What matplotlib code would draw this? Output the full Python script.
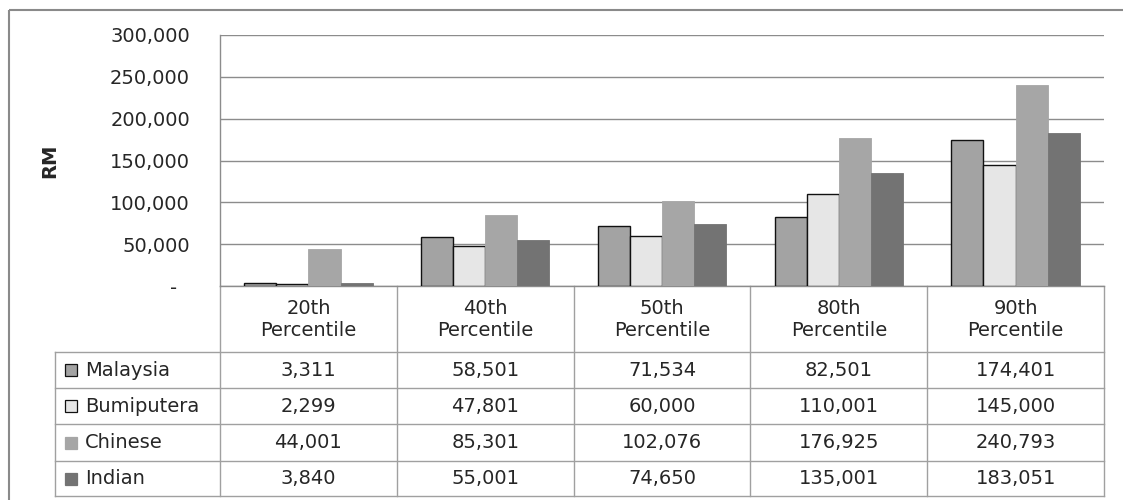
import matplotlib
matplotlib.use("Agg")
import matplotlib.pyplot as plt
from matplotlib.lines import Line2D
from matplotlib.patches import Rectangle
from matplotlib.ticker import FixedLocator, FuncFormatter
from matplotlib.transforms import blended_transform_factory
import numpy as np

plt.rcParams['font.family'] = ['DejaVu Sans']

# Household income by percentile and ethnic group (RM)
categories = ["20th\nPercentile", "40th\nPercentile", "50th\nPercentile",
              "80th\nPercentile", "90th\nPercentile"]
groups = ["Malaysia", "Bumiputera", "Chinese", "Indian"]
malaysia = [3311, 58501, 71534, 82501, 174401]
bumiputera = [2299, 47801, 60000, 110001, 145000]
chinese = [44001, 85301, 102076, 176925, 240793]
indian = [3840, 55001, 74650, 135001, 183051]
series = [malaysia, bumiputera, chinese, indian]
y_ticks = [0, 50000, 100000, 150000, 200000, 250000, 300000]

fills = ["#a3a3a3", "#e6e6e6", "#a6a6a6", "#737373"]
edges = ["#111111", "#111111", "#a6a6a6", "#737373"]
GRID = "#8c8c8c"
TABLE = "#a0a0a0"
TEXT = "#262626"

W, H = 1123, 500
fig = plt.figure(figsize=(W / 100, H / 100), dpi=100)

def fx(px):
    return px / W

def fy(py):
    return 1 - py / H

# Pixel-space overlay for frame and table
ov = fig.add_axes([0, 0, 1, 1], zorder=0)
ov.set_xlim(0, W)
ov.set_ylim(H, 0)
ov.axis("off")

# Outer chart frame
ov.add_patch(Rectangle((9, 10), W + 20, H + 20, fill=False,
                       edgecolor="#8a8a8a", lw=1.5))

# Plot area
left, right, top, base = 220, 1104, 35, 286
ax = fig.add_axes([fx(left), fy(base), fx(right - left), (base - top) / H], zorder=2)
ax.patch.set_alpha(0)

n = len(categories)
bw = 1 / 5.5
x = np.arange(n)
for i, (vals, fc, ec) in enumerate(zip(series, fills, edges)):
    ax.bar(x + (i - 1.5) * bw, vals, width=bw, color=fc, edgecolor=ec,
           linewidth=1.0 if ec == "#111111" else 0.6, zorder=3)

ax.set_xlim(-0.5, n - 0.5)
ax.set_ylim(0, 300000)
ax.yaxis.set_major_locator(FixedLocator(y_ticks))
ax.yaxis.set_major_formatter(FuncFormatter(
    lambda v, p: "-  " if v == 0 else f"{int(v):,}"))
ax.tick_params(axis="y", length=0, pad=21.6, labelsize=14, labelcolor=TEXT)
ax.set_xticks([])
ax.grid(axis="y", color=GRID, lw=1.0, zorder=0)
for s in ["top", "right", "bottom"]:
    ax.spines[s].set_visible(False)
ax.spines["left"].set_color(GRID)
ax.spines["left"].set_linewidth(1.0)
ax.set_ylabel("RM", fontsize=14, fontweight="bold", color=TEXT)
ax.yaxis.set_label_coords((59 - left) / (right - left), 0.5)

# Data table below the plot, columns aligned with the category axis
tr = blended_transform_factory(ax.transData, ov.transData)
row_lines = [352, 388, 424, 461, 496]
bottom = row_lines[-1]
label_left = 55

# horizontal rules
ov.plot([left, right], [base, base], color=GRID, lw=1.0, zorder=4)
for yy in row_lines:
    ov.plot([label_left, right], [yy, yy], color=TABLE, lw=1.0, zorder=4)
# vertical rules
ov.plot([label_left, label_left], [row_lines[0], bottom], color=TABLE, lw=1.0)
ov.plot([left, left], [base, bottom], color=TABLE, lw=1.0)
for k in range(1, n + 1):
    ov.add_line(Line2D([k - 0.5, k - 0.5], [base, bottom], color=TABLE,
                       lw=1.0, transform=tr))

# header cells
for k, cat in enumerate(categories):
    ov.text(k, (base + row_lines[0]) / 2 + 1, cat, transform=tr, ha="center",
            va="center", fontsize=14, color=TEXT, linespacing=1.2)

# body rows
for r, (name, vals, fc, ec) in enumerate(zip(groups, series, fills, edges)):
    yc = (row_lines[r] + row_lines[r + 1]) / 2
    ov.add_patch(Rectangle((65, yc - 6), 12, 12, facecolor=fc,
                           edgecolor="#111111" if ec == "#111111" else fc,
                           lw=0.9))
    ov.text(85, yc, name, ha="left", va="center", fontsize=14, color=TEXT)
    for k, v in enumerate(vals):
        ov.text(k, yc, f"{v:,}", transform=tr, ha="center", va="center",
                fontsize=14, color=TEXT)

fig.savefig("out.png", dpi=100)
